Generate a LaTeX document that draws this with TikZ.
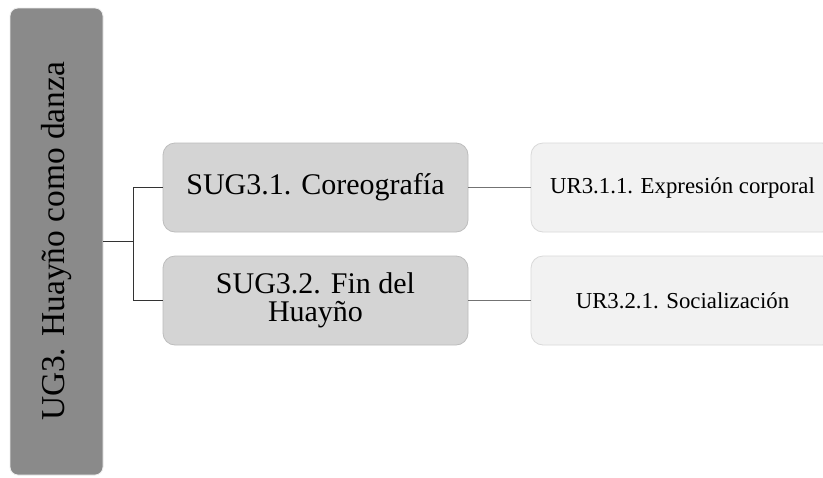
\documentclass[tikz,border=0pt]{standalone}
\usepackage{fontspec}
\setmainfont{Liberation Serif}
\usepackage{tikz}
\usetikzlibrary{shapes.geometric, arrows}
\definecolor{maingray}{HTML}{8A8A8A}
\definecolor{subgray}{HTML}{D4D4D4}
\definecolor{subedge}{HTML}{BDBDBD}
\definecolor{unitgray}{HTML}{F2F2F2}
\definecolor{unitedge}{HTML}{D9D9D9}
\tikzstyle{mainbox} = [rectangle, rounded corners=4pt, rotate=90, minimum width=233.5pt, minimum height=46.5pt, text centered, draw=white!85!maingray, fill=maingray, font=\fontsize{16.7}{18}\selectfont]
\tikzstyle{subbox} = [rectangle, rounded corners=6pt, minimum width=152.5pt, minimum height=44.5pt, text centered, align=center, draw=subedge, fill=subgray, font=\fontsize{15}{14}\selectfont]
\tikzstyle{unitbox} = [rectangle, rounded corners=6pt, minimum width=151.5pt, minimum height=44.5pt, text centered, draw=unitedge, fill=unitgray, font=\fontsize{11.4}{13}\selectfont]
\tikzstyle{darkline} = [line width=0.7pt, draw=black!80]
\tikzstyle{greyline} = [line width=0.7pt, draw=black!55]

\begin{document}
\begin{tikzpicture}[x=0.5pt, y=-0.5pt]
	\clip (0,0) rectangle (823,477);
	\fill[white] (0,0) rectangle (823,477);
	\node(ugthree) [mainbox] at (56.5,241.5) {UG3. Huayño como danza};
	\node(sugone) [subbox] at (315.5,187.5) {SUG3.1. Coreografía};
	\node(sugtwo) [subbox, below of=sugone, node distance=56.5pt] {SUG3.2. Fin del\\Huayño};
	\node(urone) [unitbox, right of=sugone, node distance=183.5pt] {UR3.1.1. Expresión corporal};
	\node(urtwo) [unitbox, right of=sugtwo, node distance=183.5pt] {UR3.2.1. Socialización};
	
	\draw[darkline] (ugthree.south) -- ++(30,0) coordinate(fork);
	\draw[darkline] (fork) |- (sugone.west);
	\draw[darkline] (fork) |- (sugtwo.west);
	\draw[greyline] (sugone) -- (urone);
	\draw[greyline] (sugtwo) -- (urtwo);
\end{tikzpicture}
\end{document}
